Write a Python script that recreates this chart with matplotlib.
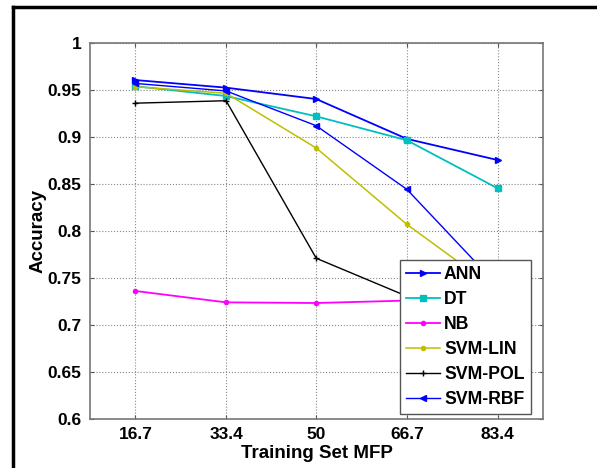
import matplotlib
matplotlib.use('Agg')
import matplotlib.pyplot as plt
from matplotlib.lines import Line2D

plt.rcParams['font.family'] = ['Liberation Sans', 'DejaVu Sans']

mfp = [16.7, 33.4, 50, 66.7, 83.4]
tick_labels = ['16.7', '33.4', '50', '66.7', '83.4']

ann = [0.9606, 0.9525, 0.9404, 0.898, 0.8755]
dt = [0.954, 0.9436, 0.922, 0.8965, 0.8454]
nb = [0.7362, 0.7241, 0.7234, 0.726, 0.728]
svm_lin = [0.9535, 0.9465, 0.8883, 0.807, 0.7367]
svm_pol = [0.936, 0.9386, 0.771, 0.7306, 0.72]
svm_rbf = [0.957, 0.949, 0.912, 0.8443, 0.742]

fig = plt.figure(figsize=(5.97, 4.68), dpi=100)
ax = fig.add_axes([0.1508, 0.1047, 0.7587, 0.8034])

ax.plot(mfp, ann, color='#0000ff', marker='>', ms=4, lw=1.3, label='ANN')
ax.plot(mfp, dt, color='#00bfbf', marker='s', ms=4, lw=1.3, label='DT')
ax.plot(mfp, nb, color='#ff00ff', marker='o', ms=3, lw=1.3, label='NB')
ax.plot(mfp, svm_lin, color='#bfbf00', marker='o', ms=3, lw=1.1, label='SVM-LIN')
ax.plot(mfp, svm_pol, color='black', marker='+', ms=4, lw=1.0, label='SVM-POL')
ax.plot(mfp, svm_rbf, color='#0000ff', marker='<', ms=4, lw=1.0, label='SVM-RBF')

ax.set_xlim(8.35, 91.75)
ax.set_ylim(0.6, 1.0)
ax.set_xticks(mfp)
ax.set_xticklabels(tick_labels)
ax.set_yticks([0.6, 0.65, 0.7, 0.75, 0.8, 0.85, 0.9, 0.95, 1.0])
ax.set_yticklabels(['0.6', '0.65', '0.7', '0.75', '0.8', '0.85', '0.9', '0.95', '1'])
for lab in ax.get_xticklabels() + ax.get_yticklabels():
    lab.set_fontweight('bold')
    lab.set_fontsize(12.5)
ax.tick_params(direction='in', top=True, right=True, length=3, color='#555555', pad=6)
ax.grid(True, linestyle=':', color='#888888', lw=0.8)
for s in ax.spines.values():
    s.set_color('#777777')
    s.set_linewidth(1.2)

ax.set_xlabel('Training Set MFP', fontsize=13.5, fontweight='bold', labelpad=2)
ax.set_ylabel('Accuracy', fontsize=13.5, fontweight='bold', labelpad=1)

leg = ax.legend(loc='upper left', bbox_to_anchor=(0.684, 0.423), borderaxespad=0,
                prop={'weight': 'bold', 'size': 12.7}, fancybox=False,
                handlelength=1.9, handletextpad=0.25, labelspacing=0.45,
                borderpad=0.35, framealpha=1)
leg.get_frame().set_edgecolor('#555555')
leg.get_frame().set_linewidth(1.0)

# outer frame (top and left edges)
fig.add_artist(Line2D([13 / 597, 1.0], [1 - 7 / 468, 1 - 7 / 468], color='black', lw=2.5,
                      transform=fig.transFigure))
fig.add_artist(Line2D([13 / 597, 13 / 597], [0, 1 - 7 / 468], color='black', lw=2.5,
                      transform=fig.transFigure))

fig.savefig('out.png', dpi=100)
